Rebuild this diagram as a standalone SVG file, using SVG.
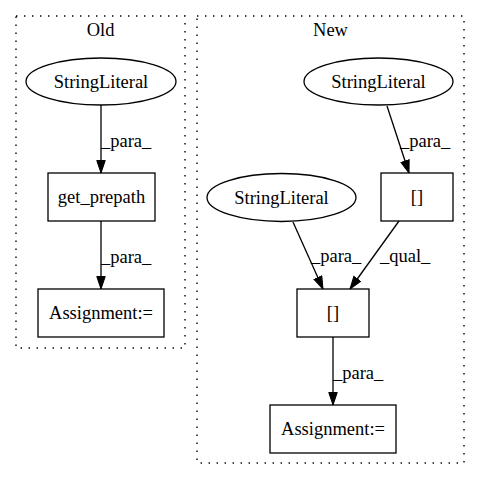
<svg xmlns="http://www.w3.org/2000/svg" width="480" height="480" viewBox="0 0 480 480">
<style>
text{font-family:"Liberation Serif","Times New Roman",serif;font-size:18.5px;fill:#000}
.c{fill:none;stroke:#000;stroke-width:1.4;stroke-dasharray:1.4,6.6}
.n{fill:none;stroke:#000;stroke-width:1.3}
.e{fill:none;stroke:#000;stroke-width:1.3}
.m{text-anchor:middle}
</style>
<defs>
<marker id="a" markerWidth="13" markerHeight="10" refX="13" refY="4.75" orient="auto" markerUnits="userSpaceOnUse">
<path d="M0.5,0.5 L13,4.75 L0.5,9 Z" fill="#000" stroke="#000" stroke-width="1"/>
</marker>
</defs>
<g id="cluster_old">
<rect class="c" x="16" y="16" width="169" height="332"/>
<text class="m" x="100.5" y="36">Old</text>
</g>
<g id="cluster_new">
<rect class="c" x="197" y="16" width="267" height="447"/>
<text class="m" x="330.5" y="36">New</text>
</g>
<g id="connectors">
<path class="e" d="M101,105 L101,173" marker-end="url(#a)"/>
<text x="101" y="147">_para_</text>
<path class="e" d="M101,221 L101,289" marker-end="url(#a)"/>
<text x="101" y="263">_para_</text>
<path class="e" d="M387,106 L409,173" marker-end="url(#a)"/>
<text x="400" y="147">_para_</text>
<path class="e" d="M293,222 L323,289" marker-end="url(#a)"/>
<text x="311" y="262">_para_</text>
<path class="e" d="M399,221 L350,289" marker-end="url(#a)"/>
<text x="380" y="262">_qual_</text>
<path class="e" d="M333,337 L333,405" marker-end="url(#a)"/>
<text x="333" y="379">_para_</text>
</g>
<g id="old_stringliteral">
<ellipse class="n" cx="101" cy="81.5" rx="75" ry="23.5"/>
<text class="m" x="101" y="87.5">StringLiteral</text>
</g>
<g id="old_get_prepath">
<rect class="n" x="48" y="173" width="107" height="48"/>
<text class="m" x="101.5" y="203">get_prepath</text>
</g>
<g id="old_assignment">
<rect class="n" x="38" y="289" width="126" height="48"/>
<text class="m" x="101" y="319">Assignment:=</text>
</g>
<g id="new_stringliteral_top">
<ellipse class="n" cx="378.5" cy="81.5" rx="74.5" ry="23.5"/>
<text class="m" x="378.5" y="87.5">StringLiteral</text>
</g>
<g id="new_index_top">
<rect class="n" x="381" y="173" width="72" height="48"/>
<text class="m" x="417" y="203">[]</text>
</g>
<g id="new_stringliteral_left">
<ellipse class="n" cx="281.5" cy="197.5" rx="74.5" ry="24"/>
<text class="m" x="281.5" y="203.5">StringLiteral</text>
</g>
<g id="new_index_bottom">
<rect class="n" x="297" y="289" width="72" height="48"/>
<text class="m" x="333" y="319">[]</text>
</g>
<g id="new_assignment">
<rect class="n" x="270" y="405" width="126" height="48"/>
<text class="m" x="333" y="435">Assignment:=</text>
</g>
</svg>
